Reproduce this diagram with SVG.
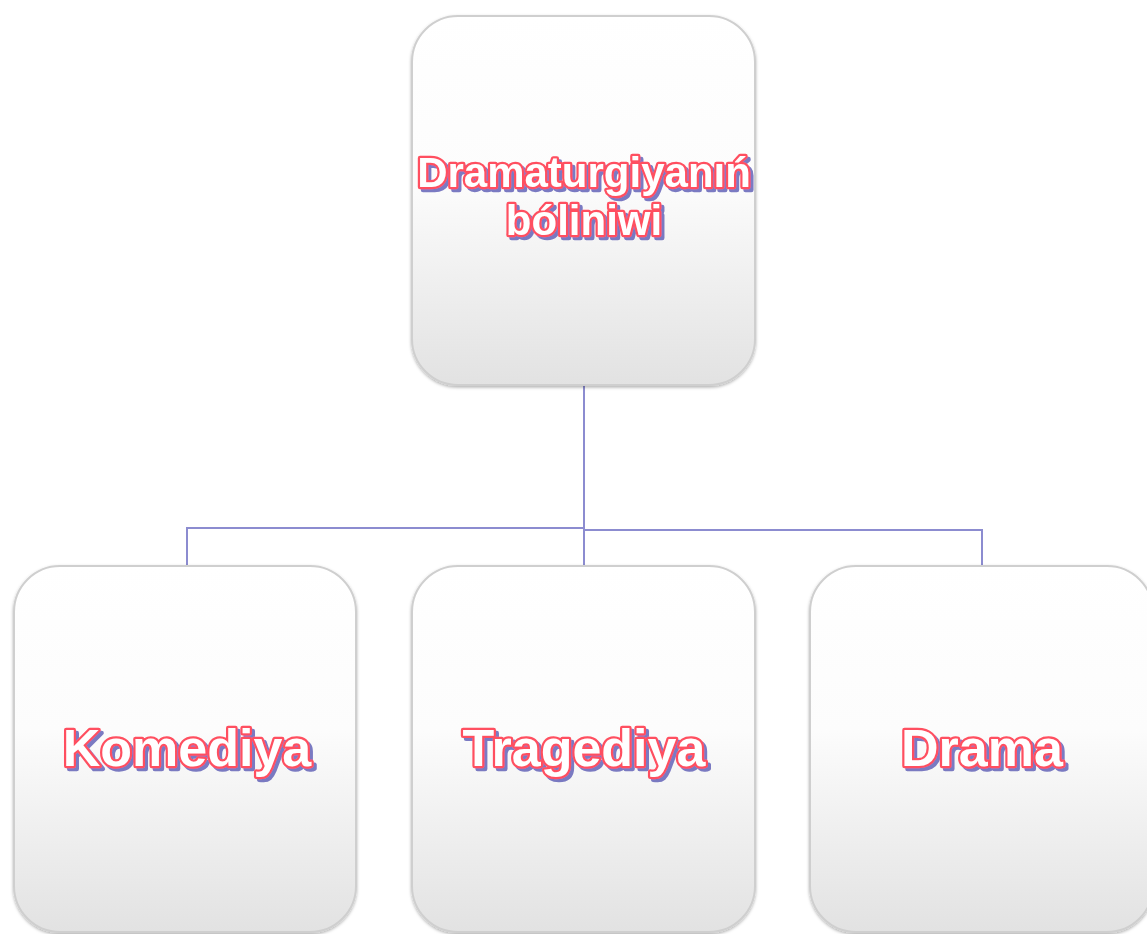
<svg xmlns="http://www.w3.org/2000/svg" width="1147" height="934" viewBox="0 0 1147 934">
<style>
.box{fill:url(#g);stroke:#cfcfcf;stroke-width:2;filter:url(#sh)}
.conn{fill:none;stroke:#8c8cd0;stroke-width:2}
.t{font-family:"Liberation Sans",Arial,sans-serif;font-weight:bold;text-anchor:middle;fill:#ffffff;stroke:#ff5060;stroke-width:4.5;paint-order:stroke;stroke-linejoin:round;filter:url(#ts)}
</style>
<defs>
<linearGradient id="g" x1="0" y1="0" x2="0" y2="1">
<stop offset="0" stop-color="#ffffff"/>
<stop offset="0.45" stop-color="#fcfcfc"/>
<stop offset="1" stop-color="#e2e2e2"/>
</linearGradient>
<filter id="sh" x="-5%" y="-5%" width="110%" height="110%">
<feDropShadow dx="0" dy="1.5" stdDeviation="1.5" flood-color="#000" flood-opacity="0.3"/>
</filter>
<filter id="ts" x="-10%" y="-30%" width="120%" height="160%">
<feFlood flood-color="#5a5ab4" flood-opacity="0.8" result="c"/>
<feComposite in="c" in2="SourceAlpha" operator="in" result="s"/>
<feOffset in="s" dx="3" dy="3" result="o"/>
<feMerge><feMergeNode in="o"/><feMergeNode in="SourceGraphic"/></feMerge>
</filter>
</defs>
<rect width="1147" height="934" fill="#ffffff"/>
<g id="connectors">
<path class="conn" d="M584 385 V566"/>
<path class="conn" d="M187 566 V528 H584"/>
<path class="conn" d="M584 530 H982 V566"/>
</g>
<g id="root">
<rect class="box" x="412" y="16" width="343" height="369" rx="46"/>
<text class="t" font-size="42" x="584" y="187">Dramaturgiyanıń<tspan x="584" dy="48">bóliniwi</tspan></text>
</g>
<g id="komediya">
<rect class="box" x="14" y="566" width="342" height="366" rx="46"/>
<text class="t" font-size="52" x="187" y="766">Komediya</text>
</g>
<g id="tragediya">
<rect class="box" x="412" y="566" width="343" height="366" rx="46"/>
<text class="t" font-size="52" x="584" y="766">Tragediya</text>
</g>
<g id="drama">
<rect class="box" x="810" y="566" width="343" height="366" rx="46"/>
<text class="t" font-size="52" x="982" y="766">Drama</text>
</g>
</svg>
